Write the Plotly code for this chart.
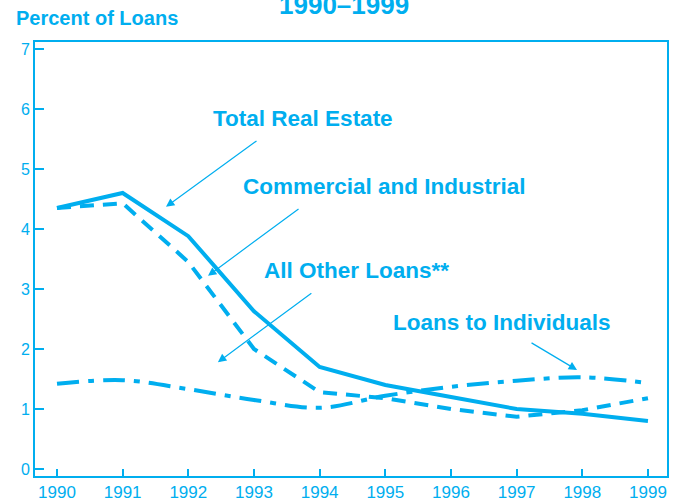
import plotly.graph_objects as go

years = [1990, 1991, 1992, 1993, 1994, 1995, 1996, 1997, 1998, 1999]
total_real_estate = [4.35, 4.60, 3.88, 2.63, 1.70, 1.40, 1.20, 1.00, 0.92, 0.80]
commercial_industrial = [4.35, 4.43, 3.45, 2.00, 1.28, 1.18, 1.00, 0.87, 0.98, 1.18]
loans_to_individuals = [1.42, 1.48, 1.33, 1.15, 1.02, 1.22, 1.37, 1.47, 1.53, 1.43]
y_ticks = [0, 1, 2, 3, 4, 5, 6, 7]

BLUE = "#00AEEF"
FONT = "Liberation Sans, Arial, sans-serif"

fig = go.Figure()
fig.add_trace(go.Scatter(x=years, y=total_real_estate, mode="lines", name="Total Real Estate",
                         line=dict(color=BLUE, width=4)))
fig.add_trace(go.Scatter(x=years, y=commercial_industrial, mode="lines", name="Commercial and Industrial",
                         line=dict(color=BLUE, width=4, dash="14px,9px")))
fig.add_trace(go.Scatter(x=years, y=loans_to_individuals, mode="lines", name="Loans to Individuals",
                         line=dict(color=BLUE, width=4, dash="22px,9px,6px,9px"), line_shape="spline"))

labels = [
    ("Total Real Estate", 303, 118),
    ("Commercial and Industrial", 385, 186),
    ("All Other Loans**", 357, 270),
    ("Loans to Individuals", 502, 323),
]
arrows = [
    (1991.66, 4.37, 92, -67),
    (1992.30, 3.22, 92, -68),
    (1992.45, 1.78, 95, -70),
    (1997.92, 1.65, -47, -28),
]

def px_to_x(px):
    return 1990 + (px - 57) / 65.67

def py_to_y(py):
    return (469 - py) / 60.0

annotations = []
for text, px, py in labels:
    annotations.append(dict(x=px_to_x(px), y=py_to_y(py), xref="x", yref="y", text="<b>%s</b>" % text,
                            showarrow=False, font=dict(family=FONT, size=22.5, color=BLUE)))
for x, y, ax, ay in arrows:
    annotations.append(dict(x=x, y=y, xref="x", yref="y", ax=ax, ay=ay, text=" ",
                            font=dict(size=1), showarrow=True, arrowhead=2, arrowsize=1.4,
                            arrowwidth=1.2, arrowcolor=BLUE))
annotations.append(dict(x=-21 / 632, y=1 + 24 / 434, xref="paper", yref="paper", xanchor="left", yanchor="middle",
                        text="<b>Percent of Loans</b>", showarrow=False, font=dict(family=FONT, size=20, color=BLUE)))
annotations.append(dict(x=(344 - 35) / 632, y=1 + 37 / 434, xref="paper", yref="paper", xanchor="center",
                        yanchor="middle", text="<b>1990–1999</b>", showarrow=False,
                        font=dict(family=FONT, size=26, color=BLUE)))

fig.update_layout(
    annotations=annotations,
    width=678, height=503,
    margin=dict(l=35, r=11, t=42, b=27, autoexpand=False),
    paper_bgcolor="white", plot_bgcolor="white",
    showlegend=False,
    font=dict(family=FONT, color=BLUE, size=16),
    xaxis=dict(range=[1989.665, 1999.29], tickvals=years, ticks="inside", ticklen=7, tickcolor=BLUE,
               tickwidth=1.5, showline=True, linecolor=BLUE, linewidth=2, mirror=True, showgrid=False,
               zeroline=False, automargin=False, tickfont=dict(size=17, color=BLUE)),
    yaxis=dict(range=[-0.117, 7.117], tickvals=y_ticks, ticks="inside", ticklen=9, tickcolor=BLUE,
               tickwidth=1.5, showline=True, linecolor=BLUE, linewidth=2, mirror=True, showgrid=False,
               zeroline=False, automargin=False, tickfont=dict(size=16, color=BLUE)),
)

fig.write_html("out.html", config={"displayModeBar": False},
               post_script="document.body.style.margin='0';document.body.style.padding='0';")
